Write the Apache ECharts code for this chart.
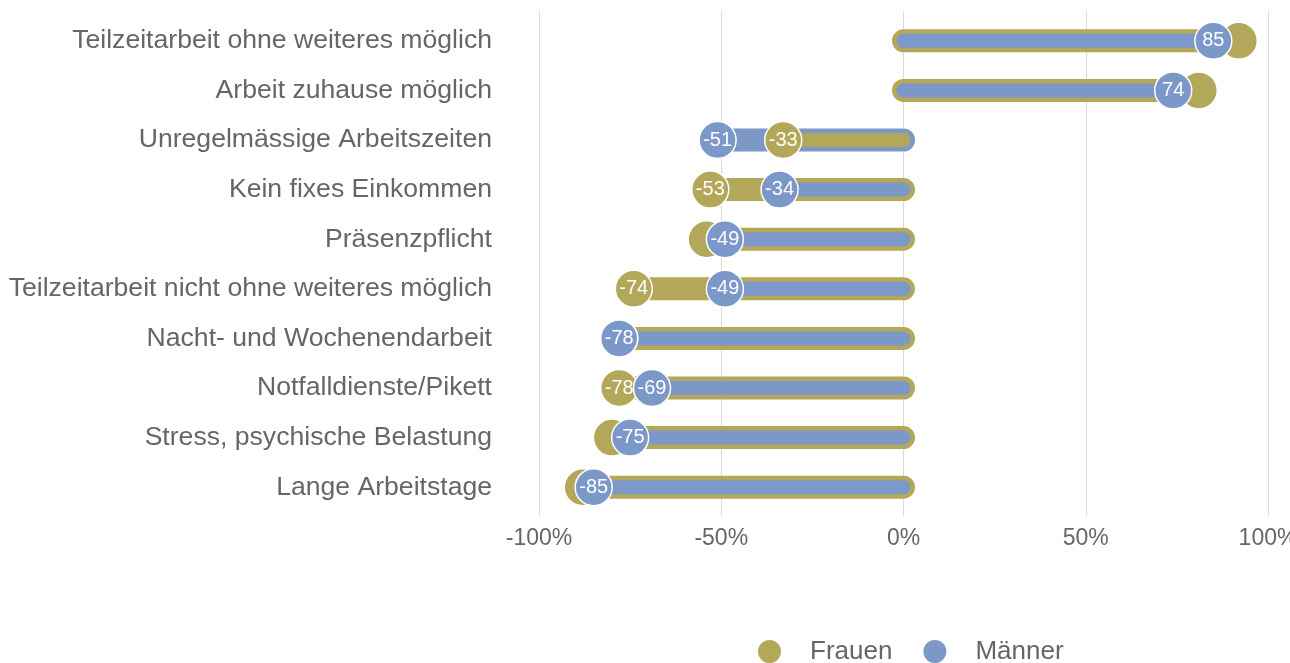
<!DOCTYPE html>
<html>
<head>
<meta charset="utf-8">
<script src="https://cdn.jsdelivr.net/npm/echarts@6/dist/echarts.min.js"></script>
<style>
  html, body { margin: 0; padding: 0; background: #fff; }
  #myChart { width: 1290px; height: 663px; }
</style>
</head>
<body>
<div id="myChart"></div>
<script>
// Kategorien von oben nach unten
const categories = [
  'Teilzeitarbeit ohne weiteres möglich',
  'Arbeit zuhause möglich',
  'Unregelmässige Arbeitszeiten',
  'Kein fixes Einkommen',
  'Präsenzpflicht',
  'Teilzeitarbeit nicht ohne weiteres möglich',
  'Nacht- und Wochenendarbeit',
  'Notfalldienste/Pikett',
  'Stress, psychische Belastung',
  'Lange Arbeitstage'
]
const frauen = [92, 81, -33, -53, -54, -74, -78, -78, -80, -88]
const maenner = [85, 74, -51, -34, -49, -49, -78, -69, -75, -85]
const xTicks = [-100, -50, 0, 50, 100]

const olive = '#b3a85a'
const blue = '#7b98c9'
const grey = '#666666'
const font = 'Liberation Sans, Arial, Helvetica, sans-serif'

const bars = categories.map((c, i) => [i, frauen[i], maenner[i]])

const labelStyle = {
  show: true,
  position: 'inside',
  color: '#fff',
  fontSize: 20,
  fontFamily: font,
  formatter: p => Math.round(p.value[0])
}

// Frauen-Label ausblenden, wenn der Kreis vom Männer-Kreis verdeckt wird
const frauenData = frauen.map((v, i) => ({
  value: [v, i],
  label: { show: Math.abs(v - maenner[i]) >= 8 }
}))
const maennerData = maenner.map((v, i) => [v, i])

const myChart = echarts.init(document.getElementById('myChart'))
myChart.setOption({
  animation: false,
  textStyle: { fontFamily: font },
  grid: {
    left: 539,
    width: 729,
    top: 16,
    height: 496,
    containLabel: false,
    outerBoundsMode: 'none'
  },
  legend: {
    data: ['Frauen', 'Männer'],
    icon: 'circle',
    left: 756,
    top: 638,
    padding: 0,
    itemWidth: 25,
    itemHeight: 25,
    itemGap: 29,
    textStyle: { fontSize: 26, color: grey, fontFamily: font, padding: [0, 0, 0, 23] }
  },
  xAxis: [
    {
      type: 'value',
      min: xTicks[0],
      max: xTicks[xTicks.length - 1],
      interval: 50,
      axisLine: { show: false },
      axisTick: { show: true, length: 4, lineStyle: { color: '#d9d9d9' } },
      splitLine: { show: true, lineStyle: { color: '#d9d9d9', width: 1 } },
      axisLabel: {
        formatter: '{value}%',
        fontSize: 23,
        color: grey,
        margin: 15,
        fontFamily: font
      }
    },
    {
      type: 'value',
      position: 'top',
      min: xTicks[0],
      max: xTicks[xTicks.length - 1],
      interval: 50,
      axisLine: { show: false },
      axisTick: { show: true, length: 5, lineStyle: { color: '#d9d9d9' } },
      splitLine: { show: false },
      axisLabel: { show: false }
    }
  ],
  yAxis: {
    type: 'category',
    data: categories,
    inverse: true,
    axisLine: { show: false },
    axisTick: { show: false },
    axisLabel: {
      fontSize: 26.6,
      color: grey,
      margin: 47,
      padding: [3, 0, 0, 0],
      fontFamily: font
    }
  },
  series: [
    {
      type: 'custom',
      z: 2,
      encode: { x: [1, 2], y: 0 },
      data: bars,
      renderItem (params, api) {
        const i = api.value(0)
        const f = api.value(1)
        const m = api.value(2)
        const fLonger = Math.abs(f) >= Math.abs(m)
        const outerV = fLonger ? f : m
        const innerV = fLonger ? m : f
        const start = api.coord([0, i])
        const outerEnd = api.coord([outerV, i])
        const innerEnd = api.coord([innerV, i])
        return {
          type: 'group',
          children: [
            {
              type: 'line',
              shape: { x1: start[0], y1: start[1], x2: outerEnd[0], y2: outerEnd[1] },
              style: { stroke: fLonger ? olive : blue, lineWidth: 23, lineCap: 'round' }
            },
            {
              type: 'line',
              shape: { x1: start[0], y1: start[1], x2: innerEnd[0], y2: innerEnd[1] },
              style: { stroke: fLonger ? blue : olive, lineWidth: 14, lineCap: 'round' }
            }
          ]
        }
      }
    },
    {
      name: 'Frauen',
      type: 'scatter',
      z: 3,
      symbolSize: 37,
      itemStyle: { color: olive, borderColor: '#fff', borderWidth: 1.5, opacity: 1 },
      label: labelStyle,
      data: frauenData
    },
    {
      name: 'Männer',
      type: 'scatter',
      z: 4,
      symbolSize: 37,
      itemStyle: { color: blue, borderColor: '#fff', borderWidth: 1.5, opacity: 1 },
      label: labelStyle,
      data: maennerData
    }
  ]
})
</script>
</body>
</html>
